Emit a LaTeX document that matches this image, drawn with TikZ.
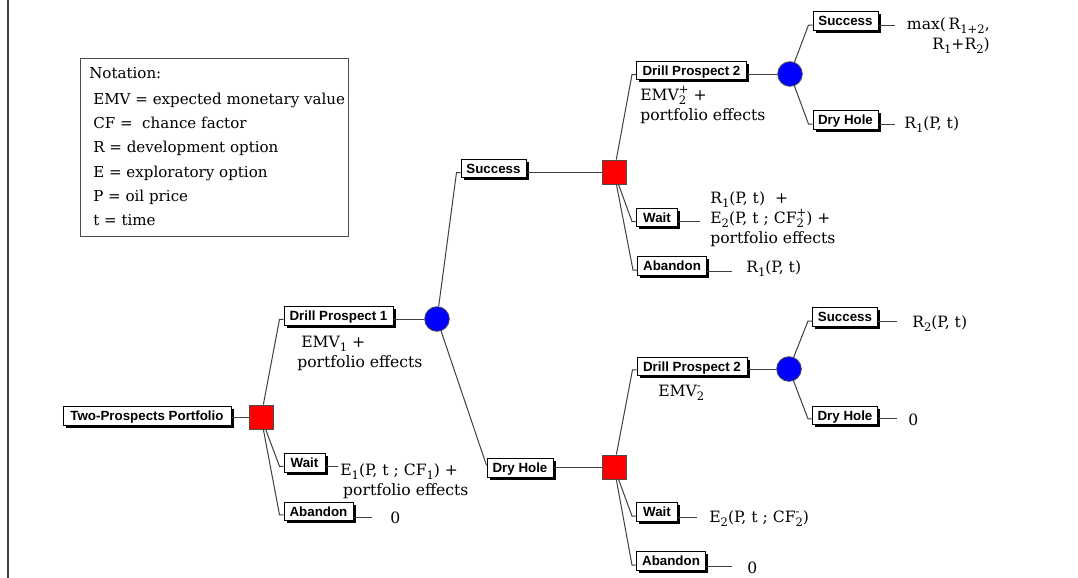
\documentclass[tikz,border=0pt]{standalone}
\usepackage{fontspec}
\setmainfont{DejaVu Serif}
\newfontfamily\boxfont{Liberation Sans}
\usetikzlibrary{shadows}
\newcommand\subfnt{\fontsize{8.7}{8.7}\selectfont}
\newcommand\mysub[1]{\raisebox{-0.55ex}{\subfnt #1}}
\newlength\mywd
\newcommand\mysubsup[2]{\setbox0=\hbox{\subfnt #1}\setbox2=\hbox{\subfnt #2}%
  \ifdim\wd0>\wd2 \setlength\mywd{\wd0}\else\setlength\mywd{\wd2}\fi
  \makebox[\mywd][l]{\rlap{\raisebox{0.8ex}{\box2}}\raisebox{-0.55ex}{\box0}}}
\newcommand\fl{\rule{0pt}{11pt}}
\begin{document}
\begin{tikzpicture}[x=0.75pt,y=-0.75pt,
  lbl/.style={draw=black, fill=white, line width=0.75pt, minimum height=13.75pt,
    inner sep=0pt, font=\boxfont\bfseries\fontsize{10}{12}\selectfont,
    text height=7.2pt, text depth=0pt,
    drop shadow={shadow xshift=1.9pt, shadow yshift=-1.9pt, opacity=1, fill=black}},
  dec/.style={draw=black!70, fill=red, minimum size=18pt, inner sep=0pt, line width=0.6pt},
  chance/.style={circle, draw=black!70, fill=blue, minimum size=18.5pt, inner sep=0pt, line width=0.6pt},
  link/.style={draw=black!75, line width=0.75pt},
  pay/.style={font=\fontsize{11.7}{15}\selectfont, inner sep=0pt, align=left, anchor=north west},
  payone/.style={font=\fontsize{11.7}{15}\selectfont, inner sep=0pt, anchor=base west}]
\useasboundingbox (0,0) rectangle (1078,578);
\fill[white] (0,0) rectangle (1078,578);
\draw[line width=1.5pt, black!75] (8,0) -- (8,578);

% notation
\node[draw=black!70, line width=0.75pt, fill=white, minimum width=201pt, minimum height=133.5pt,
  anchor=north west, inner sep=0pt] (notebox) at (80,57.5) {};
\node[payone, font=\fontsize{11.3}{15}\selectfont] (notetitle) at (89,78) {Notation:};
\node[pay, font=\fontsize{11.3}{18.2}\selectfont] (notebody) at (93,89.3)
  {\fl EMV = expected monetary value\\CF = \ chance factor\\R = development option\\E = exploratory option\\P = oil price\\t = time};

% nodes
\node[lbl, minimum width=126pt] (tp) at (147,416) {Two-Prospects Portfolio};
\node[dec] (sq1) at (261,417) {};
\node[lbl, minimum width=81.75pt] (dp1) at (338.5,316) {Drill Prospect 1};
\node[chance] (c1) at (437,319) {};
\node[lbl, minimum width=30.75pt] (wt1) at (304.5,463) {Wait};
\node[lbl, minimum width=51.75pt] (ab1) at (318.5,511.5) {Abandon};
\node[lbl, minimum width=48.75pt] (suc1) at (493.5,168.5) {Success};
\node[lbl, minimum width=49.5pt] (dh1) at (520,468) {Dry Hole};
\node[dec] (sq2) at (614,172) {};
\node[dec] (sq3) at (614,467) {};
\node[lbl, minimum width=82.5pt] (dp2a) at (691.5,70.5) {Drill Prospect 2};
\node[lbl, minimum width=30.75pt] (wt2) at (657,217.5) {Wait};
\node[lbl, minimum width=51.75pt] (ab2) at (672,266) {Abandon};
\node[chance] (c2) at (790,74) {};
\node[lbl, minimum width=48.75pt] (suc2) at (845.5,21) {Success};
\node[lbl, minimum width=48.75pt] (dh2) at (845.5,120) {Dry Hole};
\node[lbl, minimum width=82.5pt] (dp2b) at (692,366.5) {Drill Prospect 2};
\node[chance] (c3) at (789,369) {};
\node[lbl, minimum width=48.75pt] (suc3) at (845,317) {Success};
\node[lbl, minimum width=48.75pt] (dh3) at (845,415.5) {Dry Hole};
\node[lbl, minimum width=30.75pt] (wt3) at (657,512) {Wait};
\node[lbl, minimum width=51.75pt] (ab3) at (671,561) {Abandon};

% box -> shape
\draw[link] (sq1 -| tp.east) -- (sq1);
\draw[link] (c1 -| dp1.east) -- (c1);
\draw[link] (sq2 -| suc1.east) -- (sq2);
\draw[link] (sq3 -| dh1.east) -- (sq3);
\draw[link] (c2 -| dp2a.east) -- (c2);
\draw[link] (c3 -| dp2b.east) -- (c3);

% shape -> box
\draw[link] (sq1) -- ([xshift=-3pt,yshift=-2.5pt]dp1.west) -- ([yshift=-2.5pt]dp1.west);
\draw[link] (sq1) -- ([xshift=-3pt,yshift=-2.5pt]wt1.west) -- ([yshift=-2.5pt]wt1.west);
\draw[link] (sq1) -- ([xshift=-3pt,yshift=-2.5pt]ab1.west) -- ([yshift=-2.5pt]ab1.west);
\draw[link] (c1) -- ([xshift=-3pt,yshift=-3pt]suc1.west) -- ([yshift=-3pt]suc1.west);
\draw[link] (c1) -- ([yshift=2pt]dh1.west);
\draw[link] (sq2) -- ([xshift=-3pt,yshift=-3pt]dp2a.west) -- ([yshift=-3pt]dp2a.west);
\draw[link] (sq2) -- ([xshift=-3pt,yshift=-3pt]wt2.west) -- ([yshift=-3pt]wt2.west);
\draw[link] (sq2) -- ([xshift=-3pt,yshift=-3pt]ab2.west) -- ([yshift=-3pt]ab2.west);
\draw[link] (c2) -- ([xshift=-3pt,yshift=-3pt]suc2.west) -- ([yshift=-3pt]suc2.west);
\draw[link] (c2) -- ([xshift=-3pt,yshift=-3pt]dh2.west) -- ([yshift=-3pt]dh2.west);
\draw[link] (sq3) -- ([xshift=-3pt,yshift=-2.5pt]dp2b.west) -- ([yshift=-2.5pt]dp2b.west);
\draw[link] (sq3) -- ([xshift=-3pt,yshift=-3pt]wt3.west) -- ([yshift=-3pt]wt3.west);
\draw[link] (sq3) -- ([xshift=-3pt,yshift=-3pt]ab3.west) -- ([yshift=-3pt]ab3.west);
\draw[link] (c3) -- ([xshift=-3pt,yshift=-3pt]suc3.west) -- ([yshift=-3pt]suc3.west);
\draw[link] (c3) -- ([xshift=-3pt,yshift=-2.5pt]dh3.west) -- ([yshift=-2.5pt]dh3.west);

% payoff lines
\coordinate (ewt1) at (338,466);
\coordinate (eab1) at (372,517);
\coordinate (ewt2) at (700,221);
\coordinate (eab2) at (732,271);
\coordinate (esuc2) at (895,25);
\coordinate (edh2) at (895,124);
\coordinate (esuc3) at (897,321);
\coordinate (edh3) at (897,418);
\coordinate (ewt3) at (697,517);
\coordinate (eab3) at (732,566);
\draw[link] (ewt1 -| wt1.east) -- (ewt1);
\draw[link] (eab1 -| ab1.east) -- (eab1);
\draw[link] (ewt2 -| wt2.east) -- (ewt2);
\draw[link] (eab2 -| ab2.east) -- (eab2);
\draw[link] (esuc2 -| suc2.east) -- (esuc2);
\draw[link] (edh2 -| dh2.east) -- (edh2);
\draw[link] (esuc3 -| suc3.east) -- (esuc3);
\draw[link] (edh3 -| dh3.east) -- (edh3);
\draw[link] (ewt3 -| wt3.east) -- (ewt3);
\draw[link] (eab3 -| ab3.east) -- (eab3);

% payoff texts
\node[pay] (temv1) at (297,332.3) {\fl\hspace{3pt}EMV\mysub{1} +\\portfolio effects};
\node[pay] (te1) at (340,460.3) {\fl E\mysub{1}(P, t ; CF\mysub{1}) +\\\hspace*{2.2pt}portfolio effects};
\node[payone] (tz1) at (390,523) {0};
\node[pay] (temv2p) at (640,85.3) {\fl EMV\mysubsup{2}{+} +\\portfolio effects};
\node[pay] (twt2) at (710,188.3) {\fl R\mysub{1}(P, t)\ \ +\\E\mysub{2}(P, t ; CF\mysubsup{2}{+}) +\\portfolio effects};
\node[payone] (tab2) at (746,272) {R\mysub{1}(P, t)};
\node[pay, align=right, anchor=north east] (tmax) at (990,14.3) {\fl max(\,R\mysub{1+2},\\R\mysub{1}+R\mysub{2})};
\node[payone] (tdh2) at (904,128) {R\mysub{1}(P, t)};
\node[payone] (tsuc3) at (912,327) {R\mysub{2}(P, t)};
\node[payone] (tdh3) at (908,425) {0};
\node[payone] (temv2m) at (658,396) {EMV\mysubsup{2}{-}};
\node[payone] (twt3) at (709,522) {E\mysub{2}(P, t ; CF\mysubsup{2}{-})};
\node[payone] (tab3) at (747,573) {0};
\end{tikzpicture}
\end{document}
